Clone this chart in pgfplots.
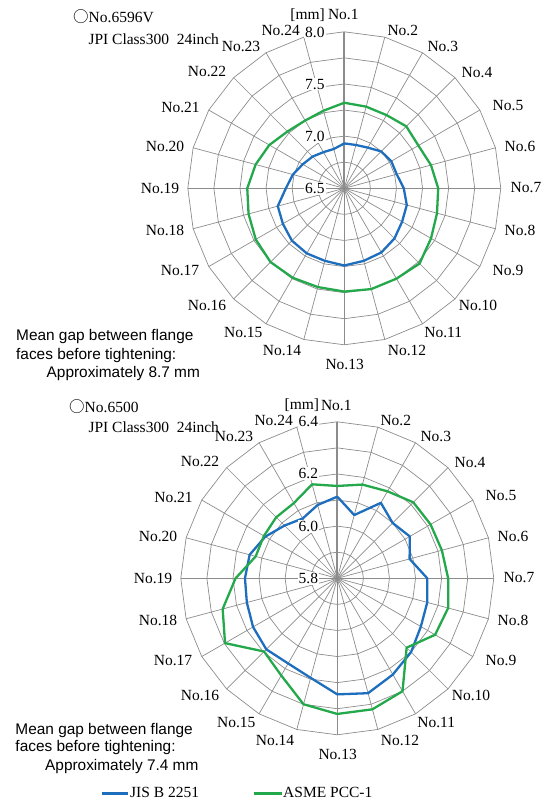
\documentclass[border=0pt]{standalone}
\usepackage{pgfplots}
\pgfplotsset{compat=1.18}
\usepackage{pgfplotstable}
\usepgfplotslibrary{polar}
\usetikzlibrary{calc}
\usepackage{fontspec}
\setmainfont{Liberation Serif}
\newfontfamily\sansf{Liberation Sans}
\newfontfamily\cjk{Noto Sans CJK JP}
\definecolor{jis}{RGB}{30,110,190}
\definecolor{asme}{RGB}{35,168,75}
\definecolor{gridc}{RGB}{140,140,140}

% angle = 90 - 15*(No-1) (mod 360), clockwise from top
\pgfplotstableread{
no ang jis asme
1 90 6.93 7.32
2 75 6.93 7.31
3 60 6.95 7.31
4 45 7.00 7.34
5 30 7.02 7.32
6 15 7.02 7.36
7 0 7.07 7.40
8 345 7.12 7.42
9 330 7.14 7.46
10 315 7.18 7.52
11 300 7.21 7.50
12 285 7.22 7.50
13 270 7.24 7.49
14 255 7.22 7.48
15 240 7.22 7.49
16 225 7.21 7.50
17 210 7.18 7.48
18 195 7.16 7.45
19 180 7.06 7.43
20 165 7.01 7.38
21 150 6.96 7.33
22 135 6.93 7.27
23 120 6.90 7.25
24 105 6.89 7.27
1 90 6.93 7.32
}\topdata

\pgfplotstableread{
no ang jis asme
1 90 6.113 6.154
2 75 6.051 6.172
3 60 6.134 6.185
4 45 6.100 6.212
5 30 6.121 6.213
6 15 6.087 6.215
7 0 6.145 6.225
8 345 6.157 6.240
9 330 6.170 6.233
10 315 6.200 6.176
11 300 6.226 6.300
12 285 6.256 6.320
13 270 6.245 6.320
14 255 6.195 6.300
15 240 6.177 6.230
16 225 6.185 6.197
17 210 6.173 6.297
18 195 6.159 6.255
19 180 6.154 6.190
20 165 6.148 6.124
21 150 6.119 6.125
22 135 6.086 6.131
23 120 6.065 6.133
24 105 6.091 6.173
1 90 6.113 6.154
}\botdata

\pgfplotsset{radar/.style={
  scale only axis, width=313pt, height=313pt, anchor=center,
  hide axis, clip=false, xmin=0, xmax=360},
  gline/.style={gridc, line width=0.7pt, mark=none},
  dline/.style={line width=2.3pt, mark=none, line join=round}}

\begin{document}
\begin{tikzpicture}[x=1pt,y=1pt,font=\fontsize{15.5}{18}\selectfont]
\useasboundingbox (0,0) rectangle (545,801);

% ---------------- top chart ----------------
\begin{polaraxis}[radar, at={(344.3pt,612.7pt)}, ymin=0, ymax=1.5,
  y filter/.expression={y-6.5}]
\pgfplotsinvokeforeach{6.75,7,7.25,7.5,7.75,8}{
  \addplot[gline] table[x=ang, y expr=#1]{\topdata};}
\pgfplotsinvokeforeach{0,15,...,345}{
  \addplot[gline] coordinates {(#1,6.5) (#1,8)};}
\addplot[gridc, line width=1.8pt, mark=none] coordinates {(90,6.5) (90,8)};
\addplot[dline, jis] table[x=ang, y=jis]{\topdata};
\addplot[dline, asme] table[x=ang, y=asme]{\topdata};
\end{polaraxis}

% ---------------- bottom chart ----------------
\begin{polaraxis}[radar, at={(337.3pt,222.7pt)}, ymin=0, ymax=0.6,
  y filter/.expression={y-5.8}]
\pgfplotsinvokeforeach{5.9,6.0,6.1,6.2,6.3,6.4}{
  \addplot[gline] table[x=ang, y expr=#1]{\botdata};}
\pgfplotsinvokeforeach{0,15,...,345}{
  \addplot[gline] coordinates {(#1,5.8) (#1,6.4)};}
\addplot[gridc, line width=1.8pt, mark=none] coordinates {(90,5.8) (90,6.4)};
\addplot[dline, jis] table[x=ang, y=jis]{\botdata};
\addplot[dline, asme] table[x=ang, y=asme]{\botdata};
\end{polaraxis}

% spoke labels
\foreach \cx/\cy in {344.3/612.7, 337.3/222.7}{
  \foreach \k/\dx/\dy in {1/-1/173.3, 2/58.5/158.3, 3/98.5/141.6, 4/132.7/115.3,
    5/163.7/82.3, 6/175.7/42.3, 7/181.7/0.3, 8/175.7/-41.7, 9/163.7/-81.7,
    10/133.7/-116.7, 11/99/-144.4, 12/62.7/-162.4, 13/0.4/-175.7,
    14/-62.3/-162.4, 15/-101/-144.4, 16/-137.3/-116.7, 17/-164.3/-81.7,
    18/-179.3/-41.7, 19/-184.3/0.3, 20/-179.3/41.7, 21/-163.8/81,
    22/-137.3/116.6, 23/-103.3/141.6, 24/-63.6/157.6}{
    \node[inner sep=0pt] at (\cx+\dx,\cy+\dy) {No.\k};
  }
}

% radial tick labels
\foreach \v/\r in {6.5/0, 7.0/52.1, 7.5/104.2, 8.0/156.3}{
  \node[anchor=east, fill=white, inner sep=1.2pt] at (326,612.7+\r) {\v};}
\foreach \v/\r in {5.8/0, 6.0/52.2, 6.2/104.4, 6.4/156.6}{
  \node[anchor=east, fill=white, inner sep=1.2pt] at (319.5,222.7+\r) {\v};}
\node[anchor=base east, inner sep=0pt] at (325,781) {[mm]};
\node[anchor=base east, inner sep=0pt] at (319.3,391) {[mm]};

% titles
\node[anchor=base west, inner sep=0pt] at (73,778.7) {{\cjk ○}No.6596V};
\node[anchor=base west, inner sep=0pt] at (88.3,756.7) {JPI Class300\ \ 24inch};
\node[anchor=base west, inner sep=0pt] at (69,388.7) {{\cjk ○}No.6500};
\node[anchor=base west, inner sep=0pt] at (88.3,368) {JPI Class300\ \ 24inch};

% notes
\begin{scope}[font=\sansf\fontsize{15.4}{18}\selectfont]
\node[anchor=base west, inner sep=0pt] at (16,460) {Mean gap between flange};
\node[anchor=base west, inner sep=0pt] at (16,441.5) {faces before tightening:};
\node[anchor=base west, inner sep=0pt] at (46.5,423) {Approximately 8.7 mm};
\node[anchor=base west, inner sep=0pt] at (15.3,66.7) {Mean gap between flange};
\node[anchor=base west, inner sep=0pt] at (15.3,49) {faces before tightening:};
\node[anchor=base west, inner sep=0pt] at (45,30.5) {Approximately 7.4 mm};
\end{scope}

% legend
\draw[jis, line width=3pt] (101.7,7.5) -- (128.3,7.5);
\node[anchor=base west, inner sep=0pt] at (130,3) {JIS B 2251};
\draw[asme, line width=3pt] (254,7.5) -- (281.7,7.5);
\node[anchor=base west, inner sep=0pt] at (283,3) {ASME PCC-1};
\end{tikzpicture}
\end{document}
